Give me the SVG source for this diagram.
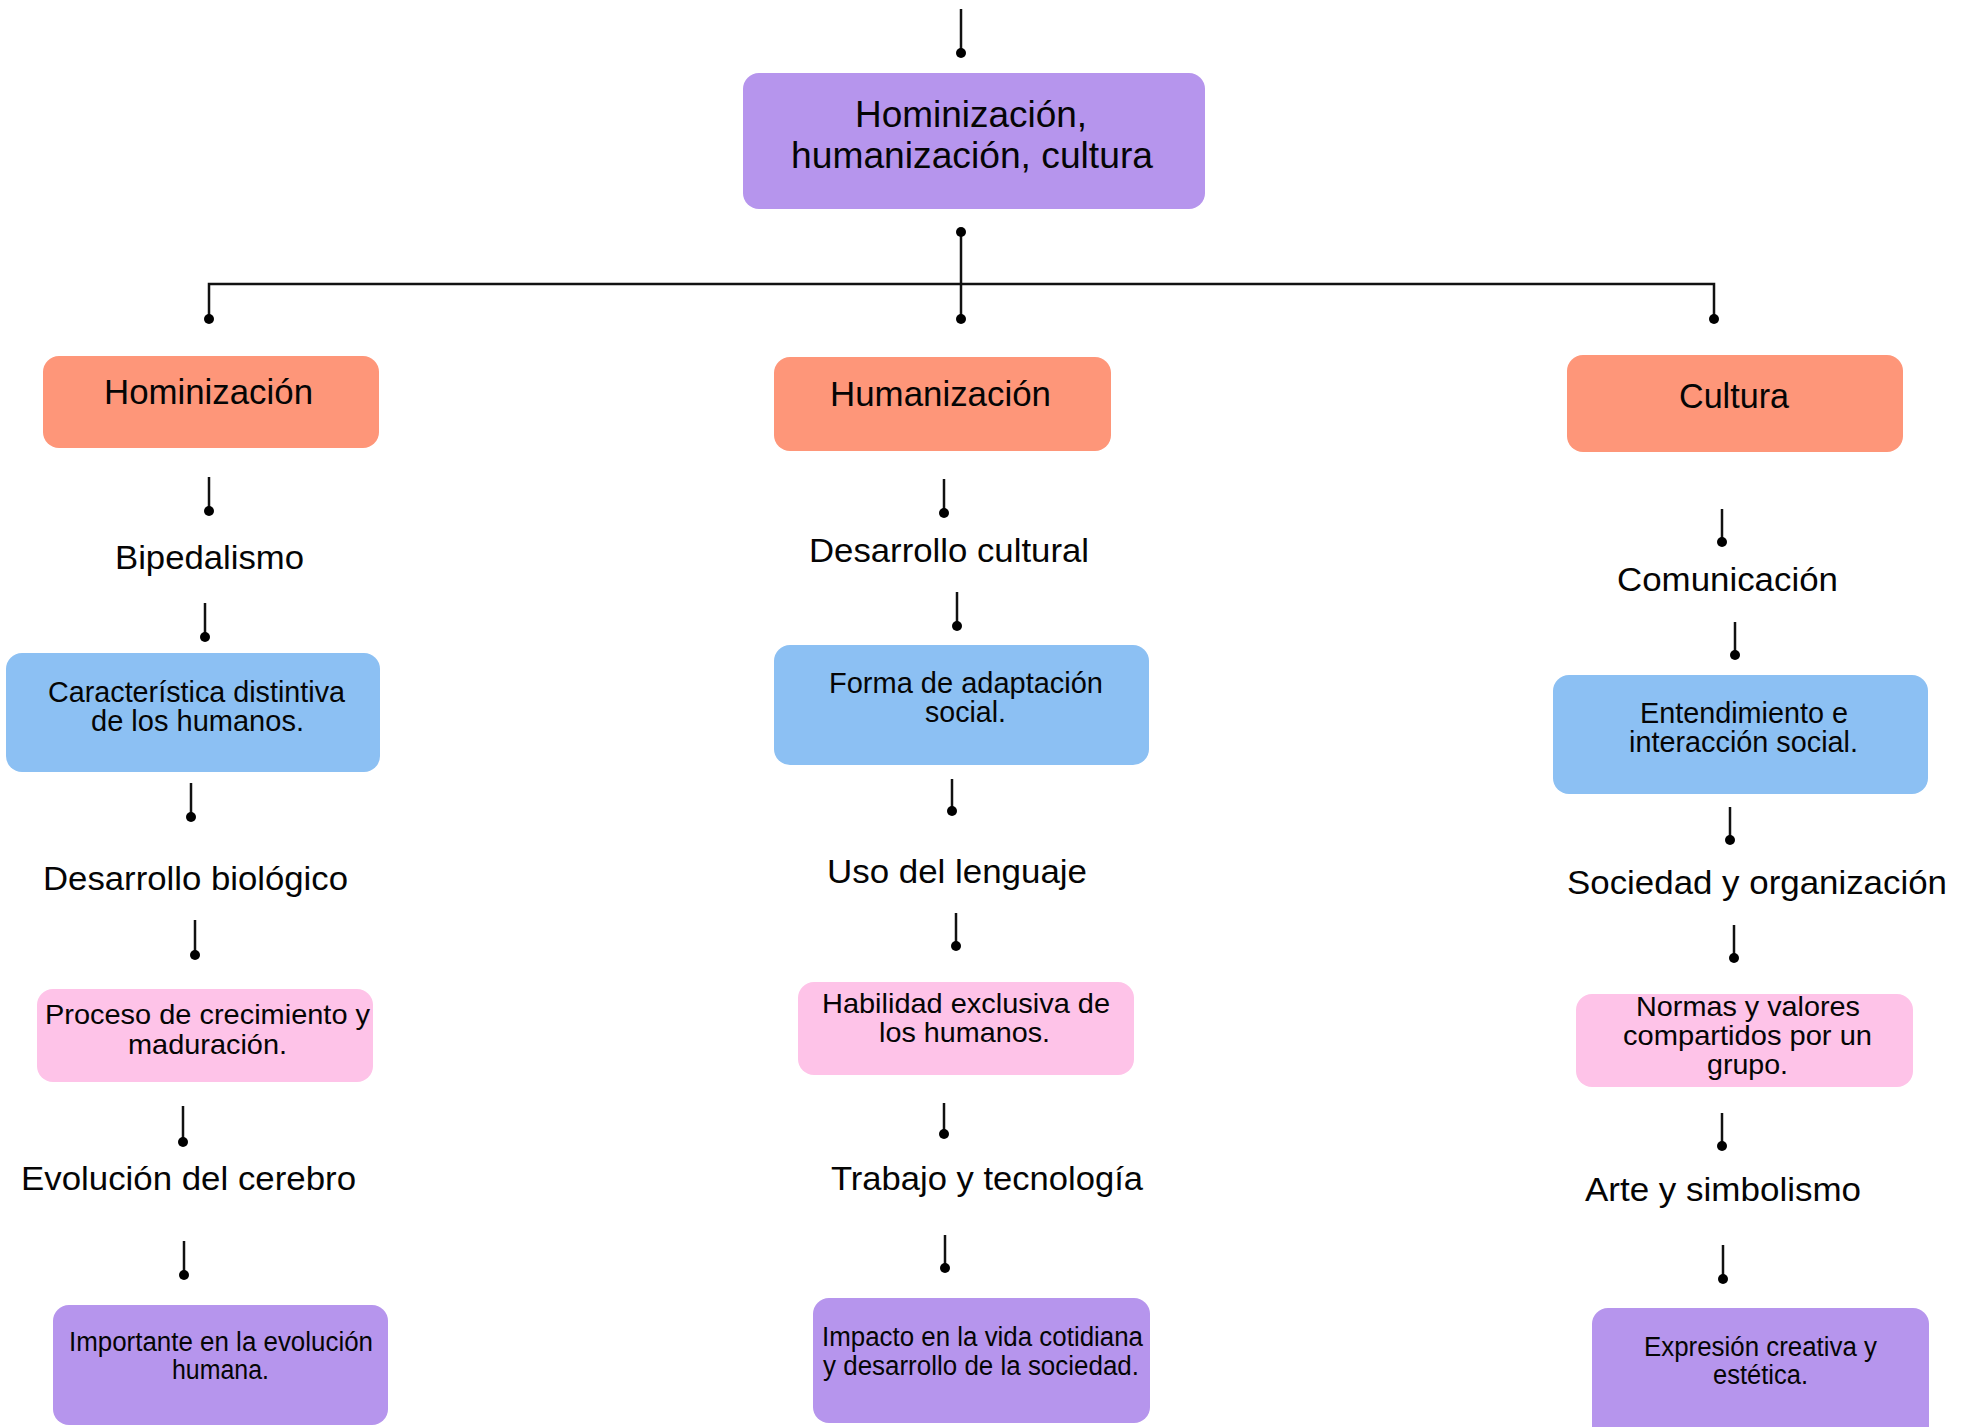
<svg xmlns="http://www.w3.org/2000/svg" width="1971" height="1427" viewBox="0 0 1971 1427">
<defs>
<marker id="dot" viewBox="0 0 10 10" refX="5" refY="5" markerWidth="10" markerHeight="10" markerUnits="userSpaceOnUse">
<circle cx="5" cy="5" r="5" fill="#000"/>
</marker>
<style>
.bg{fill:#fff}
.c{stroke:#111;stroke-width:2.5;fill:none}
.d{marker-end:url(#dot)}
.purple{fill:#b695ed}
.salmon{fill:#fe9679}
.blue{fill:#8cc0f3}
.pink{fill:#fec3e8}
text{font-family:"Liberation Sans",Arial,sans-serif;fill:#050505}
.t36{font-size:36px}
.t34{font-size:34px}
.t35{font-size:35px}
.t29{font-size:29px}
.t28{font-size:28px}
.t27{font-size:27px}
</style>
</defs>
<rect class="bg" x="0" y="0" width="1971" height="1427"/>

<g id="connectors">
<line class="c d" x1="961" y1="9" x2="961" y2="53"/>
<line class="c d" x1="961" y1="232" x2="961" y2="319" style="marker-start:url(#dot)"/>
<polyline class="c" points="209,319 209,284 1714,284 1714,319"/>
<circle cx="209" cy="319" r="5" fill="#000"/>
<circle cx="1714" cy="319" r="5" fill="#000"/>
<!-- left column -->
<line class="c d" x1="209" y1="477" x2="209" y2="511"/>
<line class="c d" x1="205" y1="603" x2="205" y2="637"/>
<line class="c d" x1="191" y1="783" x2="191" y2="817"/>
<line class="c d" x1="195" y1="920" x2="195" y2="955"/>
<line class="c d" x1="183" y1="1106" x2="183" y2="1142"/>
<line class="c d" x1="184" y1="1241" x2="184" y2="1275"/>
<!-- middle column -->
<line class="c d" x1="944" y1="479" x2="944" y2="513"/>
<line class="c d" x1="957" y1="592" x2="957" y2="626"/>
<line class="c d" x1="952" y1="779" x2="952" y2="811"/>
<line class="c d" x1="956" y1="913" x2="956" y2="946"/>
<line class="c d" x1="944" y1="1103" x2="944" y2="1134"/>
<line class="c d" x1="945" y1="1235" x2="945" y2="1268"/>
<!-- right column -->
<line class="c d" x1="1722" y1="509" x2="1722" y2="542"/>
<line class="c d" x1="1735" y1="622" x2="1735" y2="655"/>
<line class="c d" x1="1730" y1="807" x2="1730" y2="840"/>
<line class="c d" x1="1734" y1="925" x2="1734" y2="958"/>
<line class="c d" x1="1722" y1="1113" x2="1722" y2="1146"/>
<line class="c d" x1="1723" y1="1245" x2="1723" y2="1279"/>
</g>

<g id="root">
<rect class="purple" x="743" y="73" width="462" height="136" rx="16"/>
<text class="t36" x="855" y="127" textLength="232" lengthAdjust="spacingAndGlyphs">Hominización,</text>
<text class="t36" x="791" y="168" textLength="362" lengthAdjust="spacingAndGlyphs">humanización, cultura</text>
</g>

<g id="hominizacion">
<rect class="salmon" x="43" y="356" width="336" height="92" rx="16"/>
<text class="t35" x="104" y="404" textLength="209" lengthAdjust="spacingAndGlyphs">Hominización</text>
</g>
<g id="humanizacion">
<rect class="salmon" x="774" y="357" width="337" height="94" rx="16"/>
<text class="t35" x="830" y="406" textLength="221" lengthAdjust="spacingAndGlyphs">Humanización</text>
</g>
<g id="cultura">
<rect class="salmon" x="1567" y="355" width="336" height="97" rx="16"/>
<text class="t35" x="1679" y="408" textLength="110" lengthAdjust="spacingAndGlyphs">Cultura</text>
</g>

<!-- left column -->
<g id="bipedalismo">
<text class="t34" x="115" y="569" textLength="189" lengthAdjust="spacingAndGlyphs">Bipedalismo</text>
</g>
<g id="caracteristica">
<rect class="blue" x="6" y="653" width="374" height="119" rx="16"/>
<text class="t29" x="48" y="702" textLength="297" lengthAdjust="spacingAndGlyphs">Característica distintiva</text>
<text class="t29" x="91" y="731" textLength="213" lengthAdjust="spacingAndGlyphs">de los humanos.</text>
</g>
<g id="desarrollo-biologico">
<text class="t34" x="43" y="890" textLength="305" lengthAdjust="spacingAndGlyphs">Desarrollo biológico</text>
</g>
<g id="proceso">
<rect class="pink" x="37" y="989" width="336" height="93" rx="16"/>
<text class="t28" x="45" y="1024" textLength="325" lengthAdjust="spacingAndGlyphs">Proceso de crecimiento y</text>
<text class="t28" x="128" y="1054" textLength="159" lengthAdjust="spacingAndGlyphs">maduración.</text>
</g>
<g id="evolucion-cerebro">
<text class="t34" x="21" y="1190" textLength="335" lengthAdjust="spacingAndGlyphs">Evolución del cerebro</text>
</g>
<g id="importante">
<rect class="purple" x="53" y="1305" width="335" height="120" rx="16"/>
<text class="t27" x="69" y="1351" textLength="304" lengthAdjust="spacingAndGlyphs">Importante en la evolución</text>
<text class="t27" x="172" y="1379" textLength="97" lengthAdjust="spacingAndGlyphs">humana.</text>
</g>

<!-- middle column -->
<g id="desarrollo-cultural">
<text class="t34" x="809" y="562" textLength="280" lengthAdjust="spacingAndGlyphs">Desarrollo cultural</text>
</g>
<g id="forma-adaptacion">
<rect class="blue" x="774" y="645" width="375" height="120" rx="16"/>
<text class="t29" x="829" y="693" textLength="274" lengthAdjust="spacingAndGlyphs">Forma de adaptación</text>
<text class="t29" x="925" y="722" textLength="81" lengthAdjust="spacingAndGlyphs">social.</text>
</g>
<g id="uso-lenguaje">
<text class="t34" x="827" y="883" textLength="260" lengthAdjust="spacingAndGlyphs">Uso del lenguaje</text>
</g>
<g id="habilidad">
<rect class="pink" x="798" y="982" width="336" height="93" rx="16"/>
<text class="t28" x="822" y="1013" textLength="288" lengthAdjust="spacingAndGlyphs">Habilidad exclusiva de</text>
<text class="t28" x="879" y="1042" textLength="171" lengthAdjust="spacingAndGlyphs">los humanos.</text>
</g>
<g id="trabajo-tecnologia">
<text class="t34" x="831" y="1190" textLength="312" lengthAdjust="spacingAndGlyphs">Trabajo y tecnología</text>
</g>
<g id="impacto">
<rect class="purple" x="813" y="1298" width="337" height="125" rx="16"/>
<text class="t27" x="822" y="1346" textLength="321" lengthAdjust="spacingAndGlyphs">Impacto en la vida cotidiana</text>
<text class="t27" x="823" y="1375" textLength="316" lengthAdjust="spacingAndGlyphs">y desarrollo de la sociedad.</text>
</g>

<!-- right column -->
<g id="comunicacion">
<text class="t34" x="1617" y="591" textLength="221" lengthAdjust="spacingAndGlyphs">Comunicación</text>
</g>
<g id="entendimiento">
<rect class="blue" x="1553" y="675" width="375" height="119" rx="16"/>
<text class="t29" x="1640" y="723" textLength="208" lengthAdjust="spacingAndGlyphs">Entendimiento e</text>
<text class="t29" x="1629" y="752" textLength="229" lengthAdjust="spacingAndGlyphs">interacción social.</text>
</g>
<g id="sociedad-organizacion">
<text class="t34" x="1567" y="894" textLength="380" lengthAdjust="spacingAndGlyphs">Sociedad y organización</text>
</g>
<g id="normas">
<rect class="pink" x="1576" y="994" width="337" height="93" rx="16"/>
<text class="t28" x="1636" y="1016" textLength="224" lengthAdjust="spacingAndGlyphs">Normas y valores</text>
<text class="t28" x="1623" y="1045" textLength="249" lengthAdjust="spacingAndGlyphs">compartidos por un</text>
<text class="t28" x="1707" y="1074" textLength="81" lengthAdjust="spacingAndGlyphs">grupo.</text>
</g>
<g id="arte-simbolismo">
<text class="t34" x="1585" y="1201" textLength="276" lengthAdjust="spacingAndGlyphs">Arte y simbolismo</text>
</g>
<g id="expresion">
<rect class="purple" x="1592" y="1308" width="337" height="135" rx="16"/>
<text class="t27" x="1644" y="1356" textLength="233" lengthAdjust="spacingAndGlyphs">Expresión creativa y</text>
<text class="t27" x="1713" y="1384" textLength="95" lengthAdjust="spacingAndGlyphs">estética.</text>
</g>
</svg>
